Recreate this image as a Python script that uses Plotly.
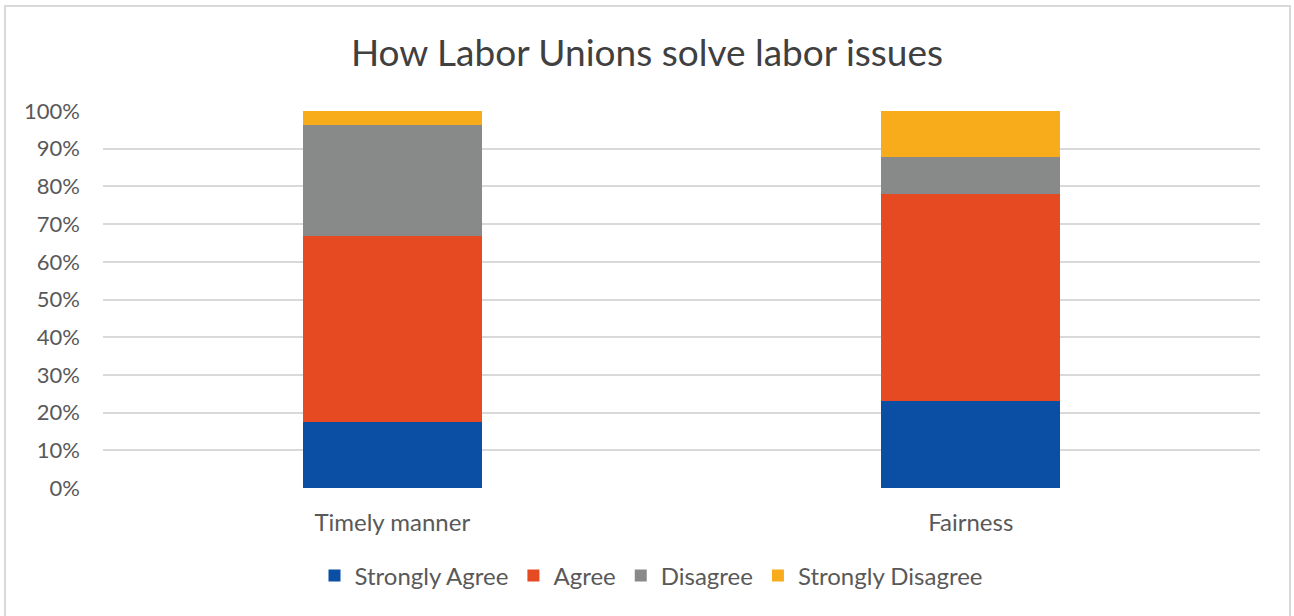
import plotly.graph_objects as go

categories = ["Timely manner", "Fairness"]
series_names = ["Strongly Agree", "Agree", "Disagree", "Strongly Disagree"]
strongly_agree = [17.4, 23.0]
agree = [49.4, 55.1]
disagree = [29.4, 9.7]
strongly_disagree = [3.8, 12.2]
colors = ["#0A4FA3", "#E54A22", "#888A89", "#F9AC1B"]

tick_values = [0, 10, 20, 30, 40, 50, 60, 70, 80, 90, 100]
tick_labels = [f"{v}%" for v in tick_values]

fig = go.Figure()
for name, vals, col in zip(series_names,
                           [strongly_agree, agree, disagree, strongly_disagree],
                           colors):
    fig.add_trace(go.Bar(
        name=name, x=categories, y=vals,
        marker=dict(color=col, line=dict(width=0)),
    ))

W, H = 1294, 616
ml, mr, mt, mb = 103, 34, 111, 128
pw, ph = W - ml - mr, H - mt - mb

# light frame around the whole chart
fig.add_shape(type="rect", xref="paper", yref="paper",
              x0=(5 - ml) / pw, x1=(1290 - ml) / pw,
              y0=(H - mb - 630) / ph, y1=(H - mb - 6) / ph,
              line=dict(color="#D9D9D9", width=2), fillcolor="rgba(0,0,0,0)",
              layer="below")

fig.update_layout(
    width=W, height=H,
    barmode="stack",
    bargap=0.69,
    paper_bgcolor="white", plot_bgcolor="white",
    margin=dict(l=ml, r=mr, t=mt, b=mb),
    font=dict(family="Lato", color="#595959", size=22),
    title=dict(text="How Labor Unions solve labor issues",
               x=0.5, xanchor="center", xref="container",
               y=1 - 53 / H, yanchor="middle",
               font=dict(family="Lato", size=37, color="#404040")),
    xaxis=dict(showgrid=False, showline=False, ticks="",
               ticklabelstandoff=18,
               tickfont=dict(size=24, color="#595959")),
    yaxis=dict(range=[0, 100], tickvals=tick_values, ticktext=tick_labels,
               showgrid=True, gridcolor="#D9D9D9", gridwidth=1.5,
               zeroline=False, showline=False, ticks="",
               ticklabelstandoff=22,
               tickfont=dict(size=22, color="#595959")),
    legend=dict(orientation="h", x=(651 - ml) / pw, xanchor="center",
                y=(H - mb - 576) / ph, yanchor="middle",
                font=dict(size=24, color="#595959"),
                traceorder="normal", itemwidth=30),
)

fig.write_html("out.html")
